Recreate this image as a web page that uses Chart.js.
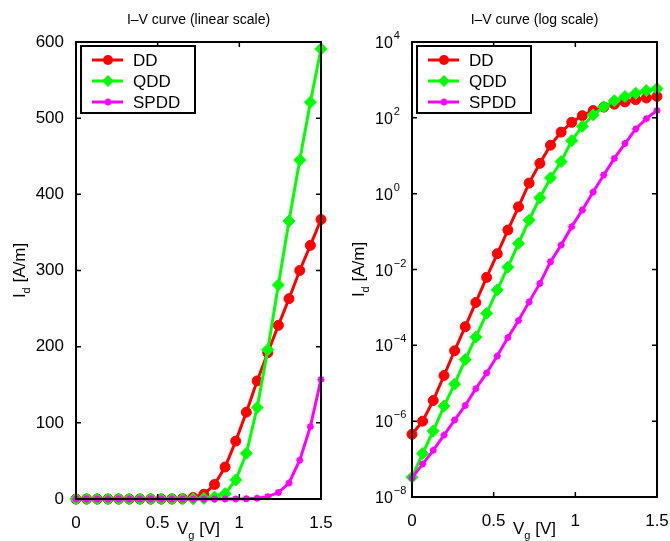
<!DOCTYPE html>
<html lang="en">
<head>
<meta charset="utf-8">
<title>I-V curves</title>
<script src="https://cdn.jsdelivr.net/npm/chart.js@4.4.0/dist/chart.umd.min.js"></script>
<style>
  body { margin: 0; background: #fff; }
  #wrap { position: relative; width: 670px; height: 541px; }
  #wrap canvas { position: absolute; top: 0; }
  #linChart { left: 0; }
  #logChart { left: 335px; }
</style>
</head>
<body>
<div id="wrap">
  <canvas id="linChart" width="335" height="541"></canvas>
  <canvas id="logChart" width="335" height="541"></canvas>
</div>
<script>
// gate voltage (V)
const vg = [0, 0.065, 0.13, 0.196, 0.261, 0.326, 0.391, 0.457, 0.522, 0.587, 0.652, 0.717,
            0.783, 0.848, 0.913, 0.978, 1.043, 1.109, 1.174, 1.239, 1.304, 1.37, 1.435, 1.5];
// drain current (A/m)
const dd   = [4.5e-7, 1.0e-6, 3.5e-6, 1.6e-5, 7.2e-5, 3.1e-4, 1.35e-3, 6.2e-3, 2.6e-2, 0.11, 0.45, 1.9,
              6.3, 19, 42, 76, 114, 155, 192, 228, 263, 300, 333, 367];
const qdd  = [3.3e-8, 1.4e-7, 5.5e-7, 2.5e-6, 9.5e-6, 4.2e-5, 1.65e-4, 7.0e-4, 2.9e-3, 1.15e-2, 4.9e-2, 0.2,
              0.78, 2.6, 7, 25, 60, 120, 196, 281, 365, 445, 521, 591];
const spdd = [3.2e-8, 7.4e-8, 1.7e-7, 4.3e-7, 1.07e-6, 2.6e-6, 7.2e-6, 1.86e-5, 5.2e-5, 1.6e-4, 4.5e-4, 1.4e-3,
              4.3e-3, 1.6e-2, 4.4e-2, 0.135, 0.37, 1.1, 3.1, 8.5, 21, 51, 95, 157];

const seriesNames = ['DD', 'QDD', 'SPDD'];
const xTicks = [0, 0.5, 1, 1.5];
const linYTicks = [0, 100, 200, 300, 400, 500, 600];
const logYExp = [4, 2, 0, -2, -4, -6, -8];

const FONT = '"Liberation Sans", Arial, Helvetica, sans-serif';

function pts(arr) {
  return vg.map((v, i) => ({ x: v, y: arr[i] }));
}

function makeDatasets() {
  return [
    { label: 'DD', data: pts(dd), borderColor: '#ff0000', backgroundColor: '#ff0000',
      pointStyle: 'circle', pointRadius: 5, pointBorderWidth: 1, borderWidth: 3, order: 3, clip: false },
    { label: 'QDD', data: pts(qdd), borderColor: '#00ff00', backgroundColor: '#00ff00',
      pointStyle: 'rectRot', pointRadius: 6, pointBorderWidth: 1, borderWidth: 3, order: 2, clip: false },
    { label: 'SPDD', data: pts(spdd), borderColor: '#ff00ff', backgroundColor: '#ff00ff',
      pointStyle: 'star', pointRadius: 3.5, pointBorderWidth: 2, borderWidth: 3, order: 1, clip: false }
  ];
}

function marker(ctx, style, x, y, color) {
  ctx.save();
  ctx.fillStyle = color; ctx.strokeStyle = color;
  ctx.beginPath();
  if (style === 'circle') {
    ctx.arc(x, y, 5, 0, Math.PI * 2); ctx.fill();
  } else if (style === 'rectRot') {
    ctx.moveTo(x, y - 6); ctx.lineTo(x + 6, y); ctx.lineTo(x, y + 6); ctx.lineTo(x - 6, y);
    ctx.closePath(); ctx.fill();
  } else {
    ctx.lineWidth = 2;
    for (let k = 0; k < 4; k++) {
      const a = k * Math.PI / 4;
      ctx.moveTo(x - 3.5 * Math.cos(a), y - 3.5 * Math.sin(a));
      ctx.lineTo(x + 3.5 * Math.cos(a), y + 3.5 * Math.sin(a));
    }
    ctx.stroke();
  }
  ctx.restore();
}

// matlab-like frame: box, inner ticks, legend, title, axis labels
const frame = {
  id: 'frame',
  afterDatasetsDraw(chart, args, o) {
    const { ctx, chartArea: a, scales } = chart;
    ctx.save();
    ctx.strokeStyle = '#000';
    ctx.lineWidth = 1.5;
    ctx.beginPath();
    scales.x.ticks.forEach(t => {
      const px = scales.x.getPixelForValue(t.value);
      ctx.moveTo(px, a.bottom); ctx.lineTo(px, a.bottom - 5);
      ctx.moveTo(px, a.top); ctx.lineTo(px, a.top + 5);
    });
    scales.y.ticks.forEach(t => {
      const py = scales.y.getPixelForValue(t.value);
      ctx.moveTo(a.left, py); ctx.lineTo(a.left + 5, py);
      ctx.moveTo(a.right, py); ctx.lineTo(a.right - 5, py);
    });
    ctx.stroke();
    ctx.lineWidth = 2;
    ctx.strokeRect(a.left, a.top, a.right - a.left, a.bottom - a.top);

    // log tick labels 10^n
    if (o.logLabels) {
      ctx.fillStyle = '#000';
      ctx.textAlign = 'left';
      ctx.textBaseline = 'alphabetic';
      logYExp.forEach(e => {
        const py = scales.y.getPixelForValue(Math.pow(10, e));
        ctx.font = '16px ' + FONT;
        const x0 = a.left - 37;
        ctx.fillText('10', x0, py + 6);
        const w = ctx.measureText('10').width;
        ctx.font = '11px ' + FONT;
        ctx.fillText(e < 0 ? '\u2212' + (-e) : String(e), x0 + w + 1, py - 3);
      });
    }

    // legend
    const lx = a.left + 5, ly = a.top + 4, lw = 114, lh = 67;
    ctx.fillStyle = '#fff';
    ctx.fillRect(lx, ly, lw, lh);
    ctx.strokeRect(lx, ly, lw, lh);
    chart.data.datasets.forEach((ds, i) => {
      const y = ly + 14 + i * 21;
      ctx.strokeStyle = ds.borderColor;
      ctx.lineWidth = 3;
      ctx.beginPath(); ctx.moveTo(lx + 11, y); ctx.lineTo(lx + 42, y); ctx.stroke();
      marker(ctx, ds.pointStyle, lx + 27, y, ds.borderColor);
      ctx.fillStyle = '#000';
      ctx.font = '17px ' + FONT;
      ctx.textAlign = 'left';
      ctx.textBaseline = 'middle';
      ctx.fillText(seriesNames[i], lx + 52, y + 1);
    });

    // title
    const cx = (a.left + a.right) / 2;
    ctx.fillStyle = '#000';
    ctx.font = '14px ' + FONT;
    ctx.textAlign = 'center';
    ctx.textBaseline = 'alphabetic';
    ctx.fillText(o.title, cx, 24);

    // x label V_g [V]
    ctx.font = '17px ' + FONT;
    const wV = ctx.measureText('V').width, wR = ctx.measureText(' [V]').width;
    ctx.font = '11px ' + FONT;
    const wg = ctx.measureText('g').width;
    let x = cx - (wV + wg + wR) / 2;
    ctx.textAlign = 'left';
    ctx.font = '17px ' + FONT; ctx.fillText('V', x, 534);
    ctx.font = '11px ' + FONT; ctx.fillText('g', x + wV, 539);
    ctx.font = '17px ' + FONT; ctx.fillText(' [V]', x + wV + wg, 534);

    // y label I_d [A/m]
    const cy = (a.top + a.bottom) / 2;
    ctx.translate(o.ylabelX, cy);
    ctx.rotate(-Math.PI / 2);
    ctx.font = '17px ' + FONT;
    const wI = ctx.measureText('I').width, wU = ctx.measureText(' [A/m]').width;
    ctx.font = '11px ' + FONT;
    const wd = ctx.measureText('d').width;
    x = -(wI + wd + wU) / 2;
    ctx.font = '17px ' + FONT; ctx.fillText('I', x, 0);
    ctx.font = '11px ' + FONT; ctx.fillText('d', x + wI, 5);
    ctx.font = '17px ' + FONT; ctx.fillText(' [A/m]', x + wI + wd, 0);
    ctx.restore();
  }
};

function xAxis(h) {
  return {
    type: 'linear', min: 0, max: 1.5,
    grid: { display: false }, border: { display: false },
    afterBuildTicks: s => { s.ticks = xTicks.map(v => ({ value: v })); },
    ticks: { color: '#000', font: { family: FONT, size: 17 }, padding: 6, maxRotation: 0,
             callback: v => String(v) },
    afterFit: s => { s.height = h; s.paddingLeft = 0; s.paddingRight = 0; }
  };
}

new Chart(document.getElementById('linChart'), {
  type: 'line',
  data: { datasets: makeDatasets() },
  options: {
    responsive: false, animation: false,
    layout: { padding: { top: 42, right: 14, left: 0, bottom: 0 } },
    scales: {
      x: xAxis(42),
      y: {
        type: 'linear', min: 0, max: 600,
        grid: { display: false }, border: { display: false },
        afterBuildTicks: s => { s.ticks = linYTicks.map(v => ({ value: v })); },
        ticks: { color: '#000', font: { family: FONT, size: 17 }, padding: 4 },
        afterFit: s => { s.width = 76; s.paddingTop = 0; s.paddingBottom = 0; }
      }
    },
    plugins: {
      legend: { display: false }, tooltip: { enabled: false },
      frame: { title: 'I\u2013V curve (linear scale)', ylabelX: 25, logLabels: false }
    }
  },
  plugins: [frame]
});

new Chart(document.getElementById('logChart'), {
  type: 'line',
  data: { datasets: makeDatasets() },
  options: {
    responsive: false, animation: false,
    layout: { padding: { top: 42, right: 13, left: 0, bottom: 0 } },
    scales: {
      x: xAxis(44),
      y: {
        type: 'logarithmic', min: 1e-8, max: 1e4,
        grid: { display: false }, border: { display: false },
        afterBuildTicks: s => { s.ticks = logYExp.map(e => ({ value: Math.pow(10, e) })); },
        ticks: { display: false },
        afterFit: s => { s.width = 77; s.paddingTop = 0; s.paddingBottom = 0; }
      }
    },
    plugins: {
      legend: { display: false }, tooltip: { enabled: false },
      frame: { title: 'I\u2013V curve (log scale)', ylabelX: 29, logLabels: true }
    }
  },
  plugins: [frame]
});
</script>
</body>
</html>
